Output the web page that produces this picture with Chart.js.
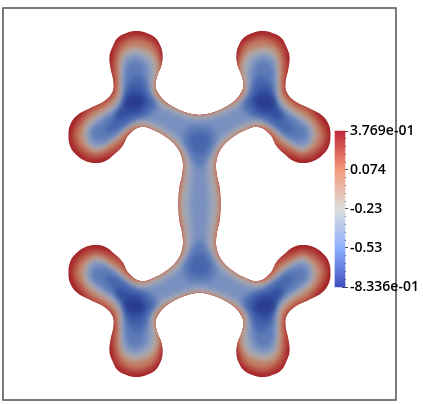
<!DOCTYPE html>
<html>
<head>
<meta charset="utf-8">
<style>
  html, body { margin: 0; padding: 0; background: #fff; }
  #wrap { position: relative; width: 423px; height: 405px; overflow: hidden; }
  canvas { position: absolute; left: 0; top: 0; }
</style>
<script src="https://cdn.jsdelivr.net/npm/chart.js@4/dist/chart.umd.min.js"></script>
</head>
<body>
<div id="wrap">
  <canvas id="field" width="423" height="405"></canvas>
  <canvas id="colorbar" width="423" height="405"></canvas>
</div>
<script>
// Contours, top-left quarter only (the field is mirrored in both axes)
const outline = [[0,89],[-12,91],[-26,97],[-36,104],[-42,112],[-44,119],[-42,129],[-38,139],[-37,150],[-39,158],[-44,166],[-53,171],[-63,173],[-73,171],[-82,166],[-87,157],[-90,148],[-89,136],[-86,122],[-87,112],[-95,103],[-109,96],[-122,89],[-129,80],[-131,69],[-129,57],[-123,49],[-114,43],[-104,41],[-94,43],[-85,50],[-77,58],[-71,69],[-59,77],[-46,74],[-32,66],[-22,56],[-17,44],[-17,31],[-20,17],[-21,4],[-21,0]]
const level1 = [[0,95],[-13,97],[-26,103],[-33,109],[-38,114],[-39,120],[-37,129],[-36,139],[-38,150],[-41,158],[-47,165],[-62,170],[-76,167],[-85,157],[-87,147],[-89,136],[-88,122],[-89,110],[-97,105],[-110,98],[-120,87],[-126,78],[-128,69],[-126,58],[-119,50],[-114,46],[-104,44],[-93,47],[-83,50],[-74,56],[-67,67],[-59,73],[-46,70],[-34,61],[-24,52],[-20,44],[-20,31],[-22,17],[-24,4],[-24,0]]
const level2 = [[0,92],[-13,93],[-26,99],[-35,105],[-41,113],[-42,120],[-40,128],[-39,138],[-42,150],[-46,158],[-52,162],[-62,165],[-73,162],[-80,155],[-83,147],[-84,134],[-83,121],[-85,110],[-94,101],[-108,93],[-117,83],[-122,75],[-124,69],[-121,60],[-114,53],[-104,49],[-94,52],[-80,60],[-71,70],[-60,75],[-46,71],[-33,63],[-23,54],[-18,44],[-18,31],[-21,17],[-22,4],[-22,0]]
const level3 = [[0,88],[-13,90],[-26,96],[-37,102],[-44,111],[-45,120],[-43,128],[-42,138],[-46,149],[-55,155],[-64,157],[-73,155],[-78,148],[-80,135],[-80,120],[-82,107],[-91,97],[-105,88],[-113,81],[-117,70],[-115,62],[-108,55],[-102,53],[-94,57],[-82,65],[-71,75],[-60,79],[-47,76],[-32,67],[-20,56],[-15,44],[-15,31],[-17,17],[-19,4],[-19,0]]
const level4 = [[0,86],[-13,88],[-26,94],[-38,100],[-47,109],[-48,120],[-46,132],[-47,143],[-54,150],[-64,152],[-73,149],[-77,140],[-78,120],[-80,105],[-89,95],[-102,86],[-110,79],[-113,70],[-111,62],[-104,56],[-95,59],[-83,68],[-71,78],[-60,82],[-47,79],[-31,70],[-18,57],[-12,44],[-12,31],[-14,17],[-16,4],[-16,0]]
const level5 = [[0,83],[-12,85],[-26,90],[-40,97],[-49,107],[-50,120],[-50,134],[-55,144],[-64,148],[-73,145],[-76,125],[-76,110],[-84,95],[-98,85],[-107,78],[-111,70],[-107,60],[-96,60],[-84,70],[-72,81],[-60,85],[-46,82],[-28,72],[-14,58],[-8,44],[-7,28],[-8,12],[-9,0]]
// Closed blobs around the four dark arm centres
const arm6 = [[-64,144],[-56,137],[-53,120],[-48,108],[-42,98],[-50,89],[-62,85],[-76,76],[-90,66],[-103,64],[-107,72],[-98,82],[-84,92],[-76,104],[-74,122],[-72,137],[-64,144]]
const arm7 = [[-64,128],[-56,124],[-52,110],[-46,100],[-54,90],[-68,85],[-84,74],[-94,72],[-90,80],[-80,92],[-74,104],[-72,118],[-64,128]]
const arm8 = [[-65,118],[-57,112],[-53,103],[-58,93],[-70,89],[-80,84],[-84,88],[-76,100],[-73,110],[-65,118]]
const arm9 = [[-66,110],[-58,107],[-56,100],[-64,95],[-72,95],[-74,103],[-66,110]]
// Left half of the two blobs on the centre line
const mid6 = [[0,78],[-12,76],[-16,64],[-10,50],[-3,38],[0,36]]
const mid7 = [[0,72],[-8,70],[-10,62],[-5,52],[0,50]]

const levelColors = ['#a32028','#b5483e','#c27f68','#b6a79c','#98a4bd','#7990c0','#5c7ab6','#4565ad','#33509f','#2a3c90']

// Colour bar
const barValues = [-0.8336, -0.5309, -0.2283, 0.0743, 0.3769]
const barColors = ['#3f50c0', '#8db0fe', '#dddddd', '#f49a7b', '#c0283a']
const barTickLabels = ['-8.336e-01', '-0.53', '-0.23', '0.074', '3.769e-01']

function toPoints(path) {
    return path.map(p => ({x: p[0], y: p[1]}))
}

// top-left quarter -> closed outline through all four quarters
function quarterLoop(q) {
    const back = q.slice().reverse()
    return [
        ...q,
        ...back.slice(1).map(p => [p[0], -p[1]]),
        ...q.slice(1).map(p => [-p[0], -p[1]]),
        ...back.slice(1).map(p => [-p[0], p[1]])
    ]
}

function layer(path, colorIndex) {
    return {
        data: toPoints(path),
        showLine: true,
        fill: 'shape',
        tension: 0.4,
        backgroundColor: levelColors[colorIndex],
        borderColor: 'transparent',
        borderWidth: 0,
        pointRadius: 0
    }
}

const layers = []
;[outline, level1, level2, level3, level4, level5].forEach((q, i) => layers.push(layer(quarterLoop(q), i)))
const blobs = {6: [arm6, mid6], 7: [arm7, mid7], 8: [arm8], 9: [arm9]}
Object.keys(blobs).forEach(k => {
    const i = Number(k)
    blobs[k].forEach(b => {
        if (b[0][0] === 0) {
            // half blob on the centre line, mirror left-right, once up and once down
            const full = [...b, ...b.slice(0, -1).reverse().map(p => [-p[0], p[1]])]
            layers.push(layer(full, i))
            layers.push(layer(full.map(p => [p[0], -p[1]]), i))
        } else {
            ;[[1, 1], [-1, 1], [1, -1], [-1, -1]].forEach(s => {
                layers.push(layer(b.map(p => [p[0] * s[0], p[1] * s[1]]), i))
            })
        }
    })
})
// chart.js paints the lowest order last
layers.forEach((d, i) => { d.order = layers.length - i })

// Everything after the outline stays inside it and gets soft edges, which hides the contour steps
const softField = {
    id: 'softField',
    afterDatasetDraw(chart, args) {
        if (args.index !== 0) return
        const ctx = chart.ctx
        ctx.save()
        ctx.beginPath()
        chart.getDatasetMeta(0).dataset.path(ctx)
        ctx.closePath()
        ctx.clip()
        ctx.filter = 'blur(2.8px)'
    },
    afterDatasetsDraw(chart) {
        chart.ctx.restore()
        const a = chart.chartArea
        chart.ctx.save()
        chart.ctx.strokeStyle = '#5a5a5a'
        chart.ctx.lineWidth = 1.6
        chart.ctx.strokeRect(a.left, a.top, a.right - a.left, a.bottom - a.top)
        chart.ctx.restore()
    }
}

new Chart(document.getElementById('field'), {
    type: 'scatter',
    data: {datasets: layers},
    options: {
        responsive: false,
        animation: false,
        events: [],
        layout: {padding: {left: 3, top: 8, right: 27, bottom: 5}},
        scales: {
            x: {type: 'linear', min: -196.5, max: 196.5, display: false},
            y: {type: 'linear', min: -196, max: 196, display: false}
        },
        plugins: {legend: {display: false}, tooltip: {enabled: false}}
    },
    plugins: [softField]
})

function barGradient(ctx) {
    const chart = ctx.chart
    const s = chart.scales.y
    const lo = barValues[0]
    const hi = barValues[barValues.length - 1]
    if (!s || !chart.chartArea || !Number.isFinite(s.getPixelForValue(lo))) return barColors[0]
    const g = chart.ctx.createLinearGradient(0, s.getPixelForValue(lo), 0, s.getPixelForValue(hi))
    barValues.forEach((v, i) => g.addColorStop((v - lo) / (hi - lo), barColors[i]))
    return g
}

new Chart(document.getElementById('colorbar'), {
    type: 'bar',
    data: {
        datasets: [{
            data: [{x: 5, y: [barValues[0], barValues[barValues.length - 1]]}],
            backgroundColor: barGradient,
            barThickness: 10,
            clip: false
        }]
    },
    options: {
        responsive: false,
        animation: false,
        events: [],
        layout: {padding: {left: 336, top: 131, right: 0, bottom: 118}},
        scales: {
            x: {type: 'linear', min: 0, max: 6, display: false},
            y: {
                position: 'right',
                min: barValues[0],
                max: barValues[barValues.length - 1],
                border: {display: false},
                grid: {
                    drawOnChartArea: false,
                    tickLength: 6,
                    tickColor: '#444',
                    // short ticks between the labelled ones
                    tickBorderDash: c => c.index % 5 === 0 ? [] : [4, 10]
                },
                ticks: {
                    padding: 2,
                    autoSkip: false,
                    color: '#000',
                    font: {family: 'Open Sans', size: 14, weight: '600'},
                    callback: (v, i) => i % 5 === 0 ? barTickLabels[i / 5] : ''
                },
                afterBuildTicks: axis => {
                    const t = []
                    for (let i = 0; i < barValues.length - 1; i++) {
                        for (let j = 0; j < 5; j++) {
                            t.push({value: barValues[i] + (barValues[i + 1] - barValues[i]) * j / 5})
                        }
                    }
                    t.push({value: barValues[barValues.length - 1]})
                    axis.ticks = t
                },
                afterFit: axis => { axis.width = 81 }
            }
        },
        plugins: {legend: {display: false}, tooltip: {enabled: false}}
    }
})
</script>
</body>
</html>
